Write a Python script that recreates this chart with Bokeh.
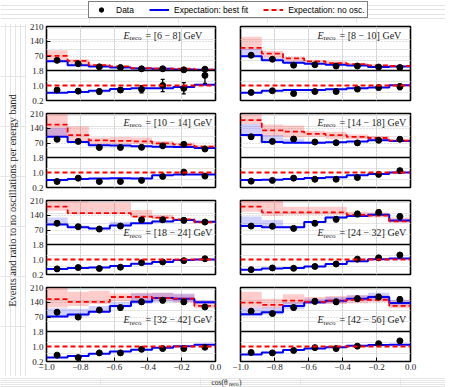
import math
from bokeh.plotting import figure
from bokeh.models import (Range1d, LinearAxis, FixedTicker, Span, Label, Legend, LegendItem,
                          ColumnDataSource, Whisker, TeeHead, Grid)
from bokeh.layouts import row, column
from bokeh.embed import file_html
from bokeh.resources import INLINE

# ---------------- data ----------------
cos_edges = [-1.0, -0.875, -0.75, -0.625, -0.5, -0.375, -0.25, -0.125, 0.0]
energy_bands = ["6 − 8", "8 − 10", "10 − 14", "14 − 18", "18 − 24", "24 − 32", "32 − 42", "42 − 56"]

data_counts = [
    [50, 34, 19, 16, 10, 10, 5, 8],
    [74, 55, 27, 29, 23, 23, 18, 16],
    [88, 78, 49, 49, 50, 57, 64, 42],
    [100, 78, 89, 75, 72, 71, 83, 88],
    [102, 86, 75, 89, 118, 119, 116, 108],
    [89, 88, 78, 102, 121, 146, 153, 134],
    [93, 70, 103, 115, 142, 150, 142, 118],
    [98, 87, 115, 145, 142, 157, 165, 153],
]
data_count_err = [
    [7, 6, 4.4, 4, 3.2, 3.2, 2.5, 3],
    [8.6, 7.4, 5.2, 5.4, 4.8, 4.8, 4.2, 4],
    [9.4, 8.8, 7, 7, 7.1, 7.5, 8, 6.5],
    [10, 8.8, 9.4, 8.7, 8.5, 8.4, 9.1, 9.4],
    [10.1, 9.3, 8.7, 9.4, 10.9, 10.9, 10.8, 10.4],
    [9.4, 9.4, 8.8, 10.1, 11, 12.1, 12.4, 11.6],
    [9.6, 8.4, 10.1, 10.7, 11.9, 12.2, 11.9, 10.9],
    [9.9, 9.3, 10.7, 12, 11.9, 12.5, 12.8, 12.4],
]
best_fit = [
    [45, 27, 21, 16, 11, 10, 7, 5],
    [69, 50, 39, 34, 29, 26, 18, 21],
    [100, 75, 60, 58, 55, 53, 52, 47],
    [108, 75, 72, 72, 74, 77, 83, 80],
    [96, 84, 78, 92, 102, 111, 118, 110],
    [89, 84, 84, 108, 129, 137, 142, 115],
    [73, 82, 95, 123, 143, 160, 157, 140],
    [83, 93, 123, 140, 147, 157, 165, 137],
]
best_fit_lo = [
    [42, 25, 19, 14, 9, 8, 6, 4],
    [66, 47, 36, 32, 27, 24, 16, 19],
    [98, 72, 57, 55, 52, 50, 49, 44],
    [105, 75, 72, 69, 70, 74, 80, 77],
    [96, 80, 74, 92, 98, 108, 114, 106],
    [86, 82, 80, 103, 124, 132, 137, 110],
    [68, 73, 90, 115, 132, 140, 140, 132],
    [74, 82, 107, 132, 135, 145, 148, 124],
]
best_fit_hi = [
    [50, 30, 23, 18, 13, 12, 9, 7],
    [103, 62, 45, 38, 32, 29, 21, 23],
    [142, 80, 63, 61, 58, 56, 55, 50],
    [160, 108, 91, 76, 77, 80, 86, 83],
    [129, 92, 84, 110, 106, 116, 122, 114],
    [134, 118, 90, 113, 134, 142, 147, 120],
    [112, 110, 123, 140, 182, 185, 182, 148],
    [115, 115, 140, 157, 165, 173, 185, 152],
]
no_osc = [
    [71, 47, 27, 21, 13, 11, 10, 6],
    [109, 82, 59, 45, 37, 32, 26, 23],
    [157, 108, 83, 80, 78, 69, 63, 53],
    [179, 130, 124, 114, 108, 99, 94, 82],
    [181, 150, 150, 150, 134, 129, 121, 107],
    [181, 154, 154, 154, 154, 142, 138, 111],
    [155, 142, 142, 165, 165, 160, 157, 123],
    [138, 128, 148, 142, 148, 152, 152, 123],
]
no_osc_lo = [
    [47, 31, 19, 14, 8, 7, 6, 3],
    [100, 62, 45, 38, 32, 28, 22, 19],
    [100, 75, 64, 64, 64, 60, 57, 49],
    [160, 103, 96, 100, 91, 88, 85, 77],
    [162, 145, 145, 145, 130, 122, 115, 103],
    [157, 138, 142, 142, 142, 134, 130, 105],
    [115, 123, 132, 145, 145, 148, 140, 112],
    [115, 112, 132, 132, 132, 135, 140, 112],
]
no_osc_hi = [
    [98, 55, 34, 24, 18, 16, 14, 9],
    [162, 94, 67, 52, 45, 37, 30, 26],
    [210, 150, 96, 99, 96, 80, 72, 60],
    [205, 158, 153, 127, 124, 111, 104, 91],
    [207, 205, 200, 200, 165, 142, 126, 112],
    [210, 210, 181, 181, 181, 157, 153, 130],
    [210, 190, 195, 182, 185, 185, 178, 148],
    [190, 157, 178, 165, 170, 173, 173, 148],
]
ratio_data = [
    [0.76, 0.70, 0.68, 0.76, 0.80, 1.00, 0.85, 1.54],
    [0.63, 0.72, 0.57, 0.68, 0.68, 0.81, 0.89, 0.93],
    [0.52, 0.70, 0.52, 0.52, 0.58, 0.79, 1.02, 0.81],
    [0.54, 0.58, 0.70, 0.64, 0.64, 0.73, 0.90, 1.10],
    [0.50, 0.57, 0.52, 0.59, 0.83, 0.87, 0.94, 1.04],
    [0.46, 0.55, 0.53, 0.63, 0.76, 1.02, 1.09, 1.24],
    [0.54, 0.41, 0.66, 0.66, 0.85, 0.89, 0.89, 0.96],
    [0.68, 0.66, 0.79, 0.94, 0.89, 1.02, 1.15, 1.30],
]
ratio_err = [
    [0.10, 0.10, 0.12, 0.12, 0.19, 0.33, 0.30, 0.43],
    [0.05, 0.06, 0.06, 0.07, 0.08, 0.09, 0.12, 0.15],
    [0.04, 0.05, 0.05, 0.05, 0.05, 0.06, 0.07, 0.07],
    [0.03, 0.04, 0.05, 0.05, 0.05, 0.06, 0.06, 0.07],
    [0.03, 0.04, 0.04, 0.04, 0.05, 0.05, 0.06, 0.06],
    [0.03, 0.04, 0.04, 0.04, 0.05, 0.05, 0.05, 0.06],
    [0.04, 0.04, 0.05, 0.05, 0.05, 0.05, 0.05, 0.06],
    [0.04, 0.05, 0.05, 0.05, 0.05, 0.05, 0.06, 0.07],
]
ratio_best = [
    [0.61, 0.65, 0.72, 0.81, 0.85, 0.85, 0.92, 1.04],
    [0.61, 0.72, 0.76, 0.76, 0.80, 0.85, 0.89, 1.02],
    [0.60, 0.66, 0.68, 0.70, 0.68, 0.85, 0.89, 0.90],
    [0.60, 0.62, 0.66, 0.71, 0.75, 0.85, 0.92, 1.00],
    [0.50, 0.55, 0.57, 0.65, 0.78, 0.87, 0.98, 1.00],
    [0.46, 0.52, 0.55, 0.63, 0.76, 0.91, 1.02, 1.06],
    [0.41, 0.49, 0.62, 0.73, 0.83, 0.94, 1.02, 1.10],
    [0.58, 0.68, 0.81, 0.89, 0.96, 1.04, 1.08, 1.10],
]
count_ticks = [1.8, 70, 140, 210]
ratio_ticks = [0.2, 1.0]
x_ticks = [-1.0, -0.8, -0.6, -0.4, -0.2, 0.0]
label_bottom = [False, False, False, False, True, True, True, True]

# ---------------- layout constants ----------------
FH = 74
TOP_H, RAT_H = 44, 30
C_LO_VIS, C_HI = 1.8, 210.0
MAIN_LO = C_LO_VIS - (C_HI - C_LO_VIS) * RAT_H / TOP_H
R_LO = 0.2
R_HI = R_LO + 1.6 * FH / RAT_H
UNIT = (C_HI - MAIN_LO) / FH  # data units per pixel (main range)
LEG_H = 23
FIRST_TOP = 3
ROW_TOP = 7
ROW_BOTTOM = 6
BOTTOM_BORDER = 15

SERIF = "Liberation Serif"
SANS = "Liberation Sans"
TXT = "#222222"


def r2main(r):
    return MAIN_LO + (r - R_LO) / (R_HI - R_LO) * (C_HI - MAIN_LO)


def fmt_minus(v):
    return ("%.1f" % v).replace("-", "\u2212")


def make_cell(i, r, c):
    left = c == 0
    bottom = r == 3
    p = figure(frame_width=169 if left else 170, frame_height=FH,
               x_range=Range1d(-1.0, 0.0), y_range=Range1d(MAIN_LO, C_HI),
               x_axis_location=None, y_axis_location=None,
               output_backend="svg", toolbar_location=None,
               min_border_left=19 if left else 13,
               min_border_right=12 if left else 9,
               min_border_top=FIRST_TOP if r == 0 else ROW_TOP,
               min_border_bottom=BOTTOM_BORDER if bottom else ROW_BOTTOM,
               outline_line_color="black", outline_line_width=1.6,
               background_fill_color="white", border_fill_color="white")
    p.extra_y_ranges = {"ratio": Range1d(R_LO, R_HI)}

    # grids
    p.add_layout(Grid(dimension=0, ticker=FixedTicker(ticks=[-0.8, -0.6, -0.4, -0.2]),
                      grid_line_color="#b5b5b5", grid_line_dash="1 2", grid_line_width=0.8))
    p.add_layout(Grid(dimension=1, ticker=FixedTicker(ticks=[70, 140]),
                      grid_line_color="#b5b5b5", grid_line_dash="1 2", grid_line_width=0.8))

    if left:
        ticks = count_ticks + [r2main(v) for v in ratio_ticks]
        overrides = {1.8: "1.8", 70: "70", 140: "140", 210: "210"}
        for v in ratio_ticks:
            overrides[r2main(v)] = "%.1f" % v
        ax = LinearAxis(ticker=FixedTicker(ticks=ticks), major_label_overrides=overrides,
                        major_tick_in=4, major_tick_out=0, minor_tick_line_color=None,
                        axis_line_color=None, major_label_standoff=3,
                        major_label_text_font=SERIF, major_label_text_font_size="9px",
                        major_label_text_color=TXT)
        p.add_layout(ax, "left")
    if bottom:
        ax = LinearAxis(ticker=FixedTicker(ticks=x_ticks),
                        major_label_overrides={v: fmt_minus(v) for v in x_ticks},
                        major_tick_in=4, major_tick_out=0, minor_tick_line_color=None,
                        axis_line_color=None, major_label_standoff=2,
                        major_label_text_font=SERIF, major_label_text_font_size="9px",
                        major_label_text_color=TXT)
        p.add_layout(ax, "below")

    lefts = cos_edges[:-1]
    rights = cos_edges[1:]
    centers = [(a + b) / 2 for a, b in zip(lefts, rights)]

    # uncertainty bands
    p.quad(left=lefts, right=rights, bottom=no_osc_lo[i], top=no_osc_hi[i],
           fill_color="red", fill_alpha=0.2, line_color=None)
    p.quad(left=lefts, right=rights, bottom=best_fit_lo[i], top=best_fit_hi[i],
           fill_color="blue", fill_alpha=0.18, line_color=None)

    # expectation steps (counts)
    p.step(x=cos_edges, y=best_fit[i] + [best_fit[i][-1]], mode="after",
           line_color="blue", line_width=2)
    p.step(x=cos_edges, y=no_osc[i] + [no_osc[i][-1]], mode="after",
           line_color="red", line_width=1.8, line_dash="5 3")

    # ratio steps
    p.step(x=cos_edges, y=ratio_best[i] + [ratio_best[i][-1]], mode="after",
           line_color="blue", line_width=2, y_range_name="ratio")
    p.add_layout(Span(location=1.0, dimension="width", y_range_name="ratio",
                      line_color="red", line_width=1.8, line_dash="5 3"))

    # data (counts)
    src = ColumnDataSource(dict(x=centers, y=data_counts[i],
                                lo=[v - e for v, e in zip(data_counts[i], data_count_err[i])],
                                hi=[v + e for v, e in zip(data_counts[i], data_count_err[i])]))
    p.add_layout(Whisker(source=src, base="x", lower="lo", upper="hi", dimension="height",
                         line_color="black", line_width=1.3,
                         lower_head=TeeHead(size=4, line_color="black", line_width=1.3),
                         upper_head=TeeHead(size=4, line_color="black", line_width=1.3)))
    p.scatter(x="x", y="y", source=src, size=6, color="black")

    # data (ratio)
    rsrc = ColumnDataSource(dict(x=centers, y=ratio_data[i],
                                 lo=[v - e for v, e in zip(ratio_data[i], ratio_err[i])],
                                 hi=[v + e for v, e in zip(ratio_data[i], ratio_err[i])]))
    p.add_layout(Whisker(source=rsrc, base="x", lower="lo", upper="hi", dimension="height",
                         y_range_name="ratio", line_color="black", line_width=1.3,
                         lower_head=TeeHead(size=4, line_color="black", line_width=1.3),
                         upper_head=TeeHead(size=4, line_color="black", line_width=1.3)))
    p.scatter(x="x", y="y", source=rsrc, size=6, color="black", y_range_name="ratio")

    # divider between panels
    p.add_layout(Span(location=C_LO_VIS, dimension="width", line_color="black", line_width=1.6))

    # energy band label
    ylab = (C_HI - 32 * UNIT) if label_bottom[i] else (C_HI - 8.5 * UNIT)
    p.add_layout(Label(x=-1.0, y=ylab, x_offset=77, text="E", text_font=SERIF,
                       text_font_style="italic", text_font_size="10px",
                       text_baseline="middle", text_align="left", text_color=TXT))
    p.add_layout(Label(x=-1.0, y=ylab - 3 * UNIT, x_offset=83, text="reco", text_font=SERIF,
                       text_font_size="7px", text_baseline="middle", text_align="left",
                       text_color=TXT))
    p.add_layout(Label(x=-1.0, y=ylab, x_offset=99, text="= [%s] GeV" % energy_bands[i],
                       text_font=SERIF, text_font_size="10px", text_baseline="middle",
                       text_align="left", text_color=TXT))
    return p


left_cells = [make_cell(2 * r, r, 0) for r in range(4)]
right_cells = [make_cell(2 * r + 1, r, 1) for r in range(4)]
COL_H = (FIRST_TOP + FH + ROW_BOTTOM) + 2 * (ROW_TOP + FH + ROW_BOTTOM) + (ROW_TOP + FH + BOTTOM_BORDER)
STRIP_W = 445

# y-axis label strip
ylab_fig = figure(width=26, height=COL_H, x_range=Range1d(0, 26), y_range=Range1d(0, COL_H),
                  x_axis_location=None, y_axis_location=None, min_border=0,
                  outline_line_color=None, output_backend="svg", toolbar_location=None)
ylab_fig.add_layout(Label(x=11.5, y=COL_H - 177, text="Events and ratio to no oscillations per energy band",
                          angle=90, angle_units="deg", text_align="center", text_baseline="middle",
                          text_font=SERIF, text_font_size="10.5px", text_color=TXT))

# legend strip
leg_fig = figure(width=STRIP_W, height=LEG_H, x_range=Range1d(0, 1), y_range=Range1d(0, 1),
                 x_axis_location=None, y_axis_location=None, min_border=0,
                 outline_line_color=None, output_backend="svg", toolbar_location=None)
nan = float("nan")
r_bar = leg_fig.scatter(x=[nan], y=[nan], marker="dash", angle=math.pi / 2, size=10,
                        line_color="black", line_width=1.5)
r_dot = leg_fig.scatter(x=[nan], y=[nan], size=6, color="black")
r_blue = leg_fig.line(x=[nan], y=[nan], line_color="blue", line_width=2)
r_red = leg_fig.line(x=[nan], y=[nan], line_color="red", line_width=1.8, line_dash="5 3")
legend = Legend(items=[LegendItem(label="Data", renderers=[r_bar, r_dot]),
                       LegendItem(label="Expectation: best fit", renderers=[r_blue]),
                       LegendItem(label="Expectation: no osc.", renderers=[r_red])],
                orientation="horizontal", location=(88, LEG_H - 18), glyph_width=20,
                glyph_height=11, label_height=11, label_width=10, label_standoff=5,
                spacing=15, padding=2, margin=0, border_line_color="black",
                border_line_width=1, label_text_font=SANS, label_text_font_size="8.5px",
                label_text_color="black", background_fill_color="white",
                background_fill_alpha=1)
leg_fig.add_layout(legend)

# x-axis label strip
XLAB_H = 387 - LEG_H - COL_H
xlab_fig = figure(width=STRIP_W, height=XLAB_H, x_range=Range1d(0, STRIP_W),
                  y_range=Range1d(0, XLAB_H),
                  x_axis_location=None, y_axis_location=None, min_border=0,
                  outline_line_color=None, border_fill_color="white",
                  background_fill_color="white",
                  output_backend="svg", toolbar_location=None)
xlab_fig.add_layout(Label(x=211, y=XLAB_H / 2 + 0.5, text="cos(θ", text_align="left",
                          text_baseline="middle", text_font=SERIF, text_font_size="7.5px",
                          text_color=TXT))
xlab_fig.add_layout(Label(x=228.5, y=XLAB_H / 2 - 0.5, text="reco", text_align="left",
                          text_baseline="middle", text_font=SERIF, text_font_size="5.5px",
                          text_color=TXT))
xlab_fig.add_layout(Label(x=238.5, y=XLAB_H / 2 + 0.5, text=")", text_align="left",
                          text_baseline="middle", text_font=SERIF, text_font_size="7.5px",
                          text_color=TXT))

layout = column(leg_fig,
                row(ylab_fig, column(*left_cells), column(*right_cells)),
                xlab_fig)

open("out.html", "w").write(file_html(layout, INLINE))
